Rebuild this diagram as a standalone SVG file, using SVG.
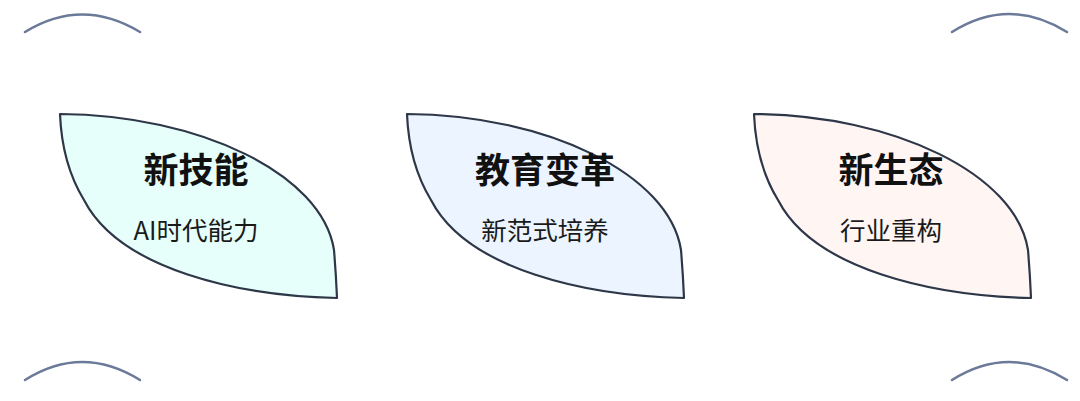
<svg xmlns="http://www.w3.org/2000/svg" width="1080" height="401" viewBox="0 0 1080 401">
<style>
.leaf{stroke:#2d3748;stroke-width:2.2;stroke-linejoin:round}
.t{font-family:"Noto Sans CJK SC","Noto Sans",sans-serif;font-weight:700;font-size:35px;fill:#111;text-anchor:middle}
.s{font-family:"Noto Sans CJK SC","Noto Sans",sans-serif;font-size:25.5px;fill:#1a1a1a;text-anchor:middle}
.arc{fill:none;stroke:#6b7a99;stroke-width:2.5;stroke-linecap:round}
</style>
<defs>
<path id="leaf" d="M0,0 C140,1 262,60 274,136 Q276,160 277,184 C180,182 60,156 24,86 Q2,50 0,0 Z"/>
</defs>
<rect width="1080" height="401" fill="#fff"/>
<g id="decor">
<path class="arc" d="M25,32 Q82,-3 140,32"/>
<path class="arc" d="M952,32 Q1009,-4 1067,32"/>
<path class="arc" d="M25,380 Q82,344 140,380"/>
<path class="arc" d="M952,380 Q1009,344 1067,380"/>
</g>
<g id="node1">
<use href="#leaf" x="60" y="114" class="leaf" fill="#e6fffa"/>
<text class="t" x="196" y="183">新技能</text>
<text class="s" x="196" y="240">AI时代能力</text>
</g>
<g id="node2">
<use href="#leaf" x="407" y="114" class="leaf" fill="#ebf4ff"/>
<text class="t" x="545" y="183">教育变革</text>
<text class="s" x="545" y="240">新范式培养</text>
</g>
<g id="node3">
<use href="#leaf" x="754" y="114" class="leaf" fill="#fff5f3"/>
<text class="t" x="891" y="183">新生态</text>
<text class="s" x="891" y="240">行业重构</text>
</g>
<g id="connectors"></g>
</svg>
